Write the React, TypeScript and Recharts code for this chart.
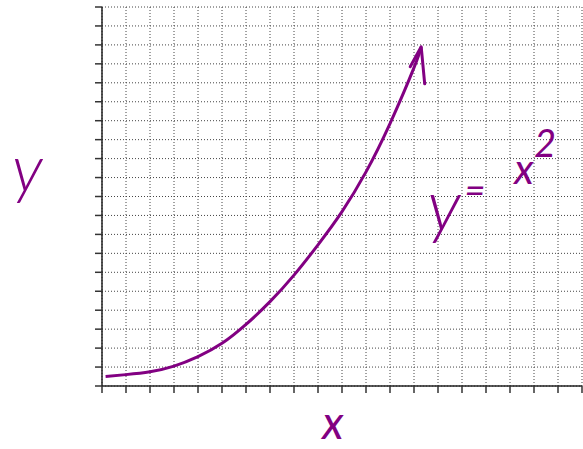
import { LineChart, Line, XAxis, YAxis, CartesianGrid, Customized } from "recharts";

// sampled points along y = x^2 (hand sketch, so not exact)
const xValues = [0.15, 1, 2, 3, 4, 5, 6, 7, 8, 9, 10, 11, 12, 13, 13.3];
const yValues = [0.5, 0.6, 0.75, 1.05, 1.55, 2.25, 3.25, 4.45, 5.85, 7.45, 9.2, 11.3, 13.85, 16.8, 17.9];
const gridTicks = Array.from({ length: 21 }, (_, i) => i);

const curve = xValues.map((x, i) => ({ x, y: yValues[i] }));

const PURPLE = "#820082";
const HAND = "Lato, 'DejaVu Sans', sans-serif";

const noTick = () => <g />;

// arrow head at the end of the curve
const ArrowDot = (props: any) => {
  const { cx, cy, index } = props;
  if (index !== curve.length - 1) return <g key={`d-${index}`} />;
  return (
    <path
      key={`d-${index}`}
      d={`M${cx - 11},${cy + 20} L${cx},${cy} L${cx + 3.5},${cy + 37}`}
      fill="none"
      stroke={PURPLE}
      strokeWidth={3}
      strokeLinecap="round"
      strokeLinejoin="round"
    />
  );
};

const Formula = () => (
  <text fill={PURPLE} fontFamily={HAND} fontStyle="italic" textAnchor="middle">
    <tspan x={444} y={230} fontSize={72} fontWeight={300}>y</tspan>
    <tspan x={475} y={203} fontSize={36}>=</tspan>
    <tspan x={524} y={184} fontSize={42}>x</tspan>
    <tspan x={545} y={157} fontSize={38}>2</tspan>
  </text>
);

export default function App() {
  return (
    <div style={{ position: "absolute", left: 0, top: 0 }}>
      <LineChart width={583} height={449} data={curve} margin={{ top: 7, right: 1, bottom: 0, left: 0 }}>
        <CartesianGrid stroke="#444" strokeDasharray="1 2" />
        <XAxis
          dataKey="x"
          type="number"
          domain={[0, 20]}
          ticks={gridTicks}
          interval={0}
          height={63}
          tick={noTick}
          tickSize={7}
          axisLine={{ stroke: "#222", strokeWidth: 1.5 }}
          tickLine={{ stroke: "#333", strokeWidth: 1.5 }}
          label={{ value: "x", position: "insideBottom", offset: 10, dx: -9, fill: PURPLE, fontSize: 46, fontFamily: HAND, fontStyle: "italic" }}
        />
        <YAxis
          type="number"
          domain={[0, 20]}
          ticks={gridTicks}
          interval={0}
          width={102}
          tick={noTick}
          tickSize={7}
          axisLine={{ stroke: "#222", strokeWidth: 1.5 }}
          tickLine={{ stroke: "#333", strokeWidth: 1.5 }}
          label={{ value: "y", position: "insideLeft", offset: 12, dy: -28, fill: PURPLE, fontSize: 66, fontWeight: 300, fontFamily: HAND, fontStyle: "italic" }}
        />
        <Line
          type="natural"
          dataKey="y"
          stroke={PURPLE}
          strokeWidth={3}
          dot={ArrowDot}
          activeDot={false}
          isAnimationActive={false}
        />
        <Customized component={Formula} />
      </LineChart>
    </div>
  );
}
